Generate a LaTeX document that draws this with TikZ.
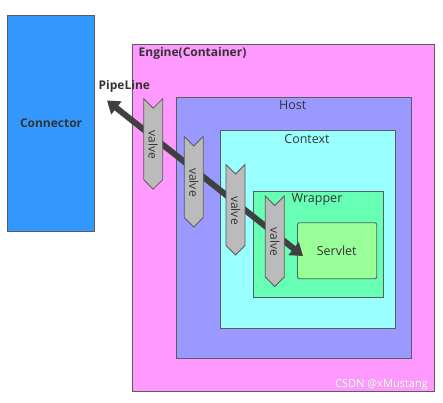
\documentclass[tikz,border=0pt]{standalone}
\usepackage{fontspec}
\setmainfont{Open Sans}
\usetikzlibrary{arrows.meta}
\definecolor{cconn}{HTML}{3399FF}
\definecolor{ceng}{HTML}{FF99FF}
\definecolor{chost}{HTML}{9999FF}
\definecolor{cctx}{HTML}{99FFFF}
\definecolor{cwrap}{HTML}{66FFB3}
\definecolor{cserv}{HTML}{99FF99}
\definecolor{cvalve}{HTML}{BBBBBB}
\definecolor{carrow}{HTML}{404040}
\definecolor{ctext}{HTML}{333333}
\tikzset{
  box/.style={draw=ctext!80, line width=0.9pt, text=ctext},
  lbl/.style={text=ctext, inner sep=0pt, font=\fontsize{12.5}{14}\selectfont},
  blbl/.style={lbl, font=\fontsize{12}{14}\selectfont\bfseries},
  valveshape/.style={draw=ctext!80, fill=cvalve, line width=0.8pt},
  vtext/.style={text=ctext, inner sep=0pt, rotate=-90, font=\fontsize{12}{14}\selectfont},
  pipe/.style={draw=carrow, line width=6pt, {Triangle[length=12pt,width=16pt]}-{Triangle[length=12pt,width=16pt]}},
}
\newcommand{\valvepath}[3]{% x, top y, name
  \draw[valveshape] (#1,#2) -- (#1+9.5,#2+9.5) -- (#1+19,#2) -- (#1+19,#2+81) -- (#1+9.5,#2+90.5) -- (#1,#2+81) -- cycle;
  \node[vtext] (#3) at (#1+9.5,#2+46) {valve};
}
\begin{document}
\begin{tikzpicture}[x=1pt,y=-1pt]
\useasboundingbox (0,0) rectangle (443,402);
% Connector
\node[box, fill=cconn, minimum width=86.7pt, minimum height=215.7pt, anchor=north west, inner sep=0pt] (conn) at (7.3,15.3) {};
\node[blbl] (connl) at (conn.center) {Connector};
% Engine
\node[box, fill=ceng, minimum width=302pt, minimum height=347pt, anchor=north west, inner sep=0pt] (eng) at (132.3,43.7) {};
\node[blbl, anchor=west] (engl) at (138.5,53) {Engine(Container)};
% Host
\node[box, fill=chost, minimum width=235pt, minimum height=261.6pt, anchor=north west, inner sep=0pt] (host) at (175.7,96.7) {};
\node[lbl] (hostl) at (292.7,105.5) {Host};
% Context
\node[box, fill=cctx, minimum width=175pt, minimum height=197.4pt, anchor=north west, inner sep=0pt] (ctx) at (220.3,130.3) {};
\node[lbl] (ctxl) at (307,139.5) {Context};
% Wrapper
\node[box, fill=cwrap, minimum width=129.4pt, minimum height=106.3pt, anchor=north west, inner sep=0pt] (wrap) at (253.3,190.7) {};
\node[lbl] (wrapl) at (317,200) {Wrapper};
% Servlet
\node[box, fill=cserv, rounded corners=2pt, minimum width=79.3pt, minimum height=56pt, anchor=north west, inner sep=0pt] (serv) at (297,222.3) {};
\node[lbl] (servl) at (336.7,250.7) {Servlet};
% PipeLine label
\node[blbl, anchor=west] (pipel) at (98.5,86.7) {PipeLine};
% pipeline arrow
\coordinate (pa) at (107,100.5);
\coordinate (pb) at (303,256);
\draw[pipe] (pa) -- (pb);
% valves
\valvepath{143.7}{98.7}{v1}
\valvepath{184.3}{136.5}{v2}
\valvepath{226}{164.5}{v3}
\valvepath{265.3}{196}{v4}
% watermark
\node[inner sep=0pt, text=gray!60, font=\fontsize{11}{13}\selectfont, anchor=east] (wm) at (428.5,385.3) {CSDN @xMustang};
\node[inner sep=0pt, text=white, font=\fontsize{11}{13}\selectfont, anchor=east] (wm2) at (428,385) {CSDN @xMustang};
\end{tikzpicture}
\end{document}
